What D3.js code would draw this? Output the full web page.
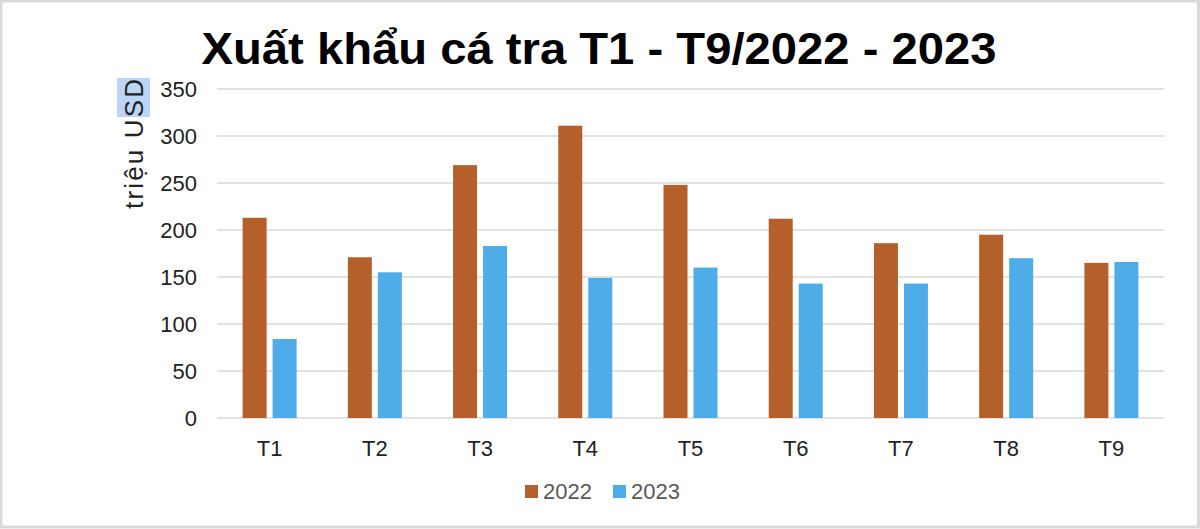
<!DOCTYPE html>
<html>
<head>
<meta charset="utf-8">
<script src="https://cdn.jsdelivr.net/npm/d3@7"></script>
<style>
  body { margin: 0; background: #fff; }
  svg { display: block; font-family: "Liberation Sans", Arial, sans-serif; }
</style>
</head>
<body>
<svg class="plot"></svg>
<script>
// Data
const months = ["T1", "T2", "T3", "T4", "T5", "T6", "T7", "T8", "T9"]
const years = ["2022", "2023"]
const values2022 = [213, 171, 269, 311, 248, 212, 186, 195, 165]
const values2023 = [84, 155, 183, 149, 160, 143, 143, 170, 166]
const yTicks = [0, 50, 100, 150, 200, 250, 300, 350]
const colors = { "2022": "#b5602b", "2023": "#4eade9" }

const W = 1200, H = 529
const margin = { left: 217, top: 89, right: 36, bottom: 111 }
const w = W - margin.left - margin.right
const h = H - margin.top - margin.bottom

const svg = d3.select(".plot").attr("width", W).attr("height", H)

// frame
svg.append("rect").attr("x", 1).attr("y", 1).attr("width", W - 2.5).attr("height", H - 3)
  .attr("fill", "#fff").attr("stroke", "#d9d9d9").attr("stroke-width", 3)

// title
svg.append("text").attr("x", 599).attr("y", 64).attr("text-anchor", "middle")
  .attr("font-size", 45).attr("font-weight", "bold").attr("fill", "#000")
  .attr("textLength", 795).attr("lengthAdjust", "spacingAndGlyphs")
  .text("Xuất khẩu cá tra T1 - T9/2022 - 2023")

const g = svg.append("g").attr("transform", `translate(${margin.left},${margin.top})`)

// Scales
const x0 = d3.scaleBand().domain(months).range([0, w]).paddingInner(0).paddingOuter(0)
const x1 = d3.scaleBand().domain(years).range([x0.bandwidth() / 2 - 27, x0.bandwidth() / 2 + 27]).paddingInner(0.2)
const y = d3.scaleLinear().domain([0, 350]).range([h, 0])

// gridlines
g.selectAll(".grid").data(yTicks).join("line").attr("class", "grid")
  .attr("x1", 0).attr("x2", w).attr("y1", d => y(d)).attr("y2", d => y(d))
  .attr("stroke", "#d9d9d9").attr("stroke-width", 1.5)

// y axis
const yAxis = g.append("g").attr("transform", "translate(-20,0)")
  .call(d3.axisLeft(y).tickValues(yTicks).tickSize(0).tickPadding(0))
yAxis.select(".domain").remove()
yAxis.selectAll("text").attr("font-size", 22).attr("fill", "#222")
  .attr("font-family", "Liberation Sans, Arial, sans-serif")

// x axis
const xAxis = g.append("g").attr("transform", `translate(0,${h})`)
  .call(d3.axisBottom(x0).tickSize(0).tickPadding(0))
xAxis.select(".domain").remove()
xAxis.selectAll("text").attr("font-size", 22).attr("fill", "#222").attr("dy", 0).attr("y", 38)
  .attr("font-family", "Liberation Sans, Arial, sans-serif")

// bars
const rows = months.map((m, i) => ({ month: m, "2022": values2022[i], "2023": values2023[i] }))
g.selectAll(".month").data(rows).join("g").attr("class", "month")
  .attr("transform", d => `translate(${x0(d.month)},0)`)
  .selectAll("rect").data(d => years.map(yr => ({ yr, v: d[yr] }))).join("rect")
  .attr("x", d => x1(d.yr)).attr("width", x1.bandwidth())
  .attr("y", d => y(d.v)).attr("height", d => y(0) - y(d.v))
  .attr("fill", d => colors[d.yr])

// y axis title with selection highlight
svg.append("rect").attr("x", 117).attr("y", 78).attr("width", 33).attr("height", 39).attr("fill", "#bcd5f7")
svg.append("text").attr("transform", "translate(143,144) rotate(-90)").attr("text-anchor", "middle")
  .attr("font-size", 26).attr("fill", "#222")
  .attr("textLength", 130).attr("lengthAdjust", "spacing")
  .text("triệu USD")

// legend
const legend = svg.append("g").attr("transform", "translate(525,480)")
const li = legend.selectAll("g").data(years).join("g").attr("transform", (d, i) => `translate(${i * 88},0)`)
li.append("rect").attr("x", 0).attr("y", 5).attr("width", 13).attr("height", 13).attr("fill", d => colors[d])
li.append("text").attr("x", 18).attr("y", 19).attr("font-size", 22).attr("fill", "#595959").text(d => d)
</script>
</body>
</html>
